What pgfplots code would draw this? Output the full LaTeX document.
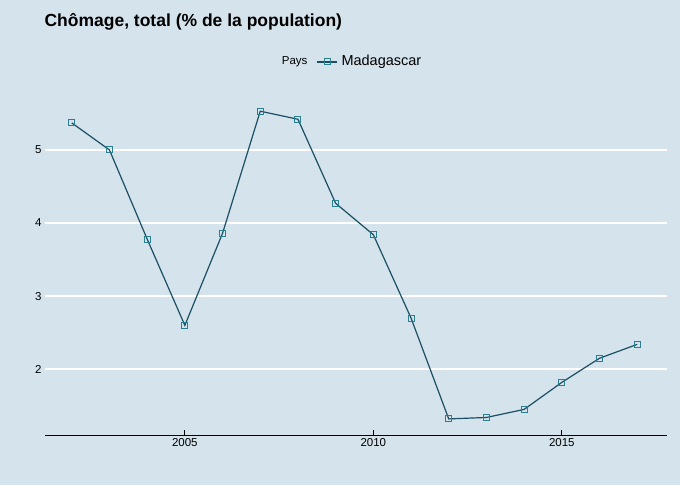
\documentclass[border=0pt]{standalone}
\usepackage{pgfplots}
\pgfplotsset{compat=1.18}
\usepackage{fontspec}
\setmainfont{Liberation Sans}
\definecolor{bg}{HTML}{D5E3EC}
\definecolor{ln}{HTML}{1B4F63}
\definecolor{mk}{HTML}{2A7F8F}
\begin{document}
\begin{tikzpicture}[x=1pt,y=1pt]
\fill[bg] (-45,-50) rectangle (635,435);
\begin{axis}[at={(0,0)},anchor=south west,scale only axis,width=622pt,height=345pt,
 xmin=2001.29,xmax=2017.79,ymin=1.1,ymax=5.82,
 axis line style={draw=none},
 axis x line*=bottom, x axis line style={draw=black,line width=0.8pt,-},
 axis y line*=left,
 xtick={2005,2010,2015},ytick={2,3,4,5},
 ymajorgrids, grid style={white,line width=2pt},
 tick style={black,line width=0.8pt}, ytick style={draw=none},
 major tick length=5pt,
 tick label style={font=\fontsize{11.5}{13}\selectfont},
 /pgf/number format/assume math mode=true,
 /pgf/number format/1000 sep={},
 ]
\addplot[ln,line width=1.2pt,mark=square,mark size=3pt,mark options={mk,line width=1pt}] coordinates {
(2002,5.37)(2003,5.0)(2004,3.78)(2005,2.60)(2006,3.86)(2007,5.53)(2008,5.42)(2009,4.27)
(2010,3.84)(2011,2.70)(2012,1.32)(2013,1.34)(2014,1.45)(2015,1.82)(2016,2.15)(2017,2.34)};
\end{axis}
\node[anchor=west,font=\bfseries\fontsize{17.5}{20}\selectfont] at (-4,413) {Chômage, total (\% de la population)};
\node[anchor=east,font=\fontsize{11.5}{13}\selectfont] at (266,373) {Pays};
\draw[ln,line width=1.2pt] (272,373) -- (292,373);
\node[draw=mk,line width=1pt,minimum size=6pt,inner sep=0pt] at (282,373) {};
\node[anchor=west,font=\fontsize{14.5}{16}\selectfont] at (293,373) {Madagascar};
\end{tikzpicture}
\end{document}
